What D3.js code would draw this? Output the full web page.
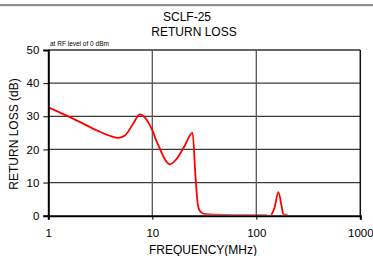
<!DOCTYPE html>
<html><head><meta charset="utf-8">
<script src="https://cdn.jsdelivr.net/npm/d3@7"></script>
<style>
html,body{margin:0;padding:0;background:#fff;}
text{font-family:"Liberation Sans",Arial,sans-serif;}
</style></head>
<body><svg id="c" width="373" height="256"></svg>
<script>
const freq = [1,1.5,2,3,4,4.7,5.5,6.5,7.6,8.5,9.3,10,11,12,13,14.8,17,20,24.4,26,27.5,29,32,40,60,100,125,132,140,150,163,176,182,200];
const returnLoss = [32.7,30.2,28.3,25.6,24.0,23.5,24.3,27.6,30.6,29.6,27.8,25.8,22.4,19.8,17.4,15.5,17.0,20.5,25.0,12,3,1.2,0.5,0.3,0.2,0.2,0.2,-1,0.3,2.5,7.1,2.5,0.3,0.3];
const xTicks = [1,10,100,1000];
const yTicks = [0,10,20,30,40,50];
const titleLines = ["SCLF-25","RETURN LOSS"];

const svg = d3.select("#c");
const L=48.3, R=360.3, T=50, B=215.7;
const x = d3.scaleLog().domain([1,1000]).range([L,R]);
const y = d3.scaleLinear().domain([0,50]).range([B,T]);

svg.append("rect").attr("x",0).attr("y",4).attr("width",373).attr("height",2.2).attr("fill","#8f8f8f");

// horizontal grid
svg.append("g").selectAll("line").data(yTicks.filter(d=>d>0)).join("line")
  .attr("x1",L).attr("x2",R).attr("y1",d=>y(d)).attr("y2",d=>y(d))
  .attr("stroke",d=>d===50?"#333":"#3a3a3a").attr("stroke-width",d=>d===50?1.5:1.2);
// vertical grid
svg.append("g").selectAll("line").data(xTicks.slice(1)).join("line")
  .attr("x1",d=>x(d)).attr("x2",d=>x(d)).attr("y1",T).attr("y2",B)
  .attr("stroke",d=>d===1000?"#111":"#555").attr("stroke-width",d=>d===1000?1.5:1.3);

// curve
svg.append("clipPath").attr("id","clip").append("rect").attr("x",L).attr("y",T).attr("width",R-L).attr("height",B-T-1);
const line = d3.line().x((d,i)=>x(freq[i])).y(d=>y(d)).curve(d3.curveMonotoneX);
svg.append("path").datum(returnLoss).attr("d",line).attr("fill","none")
  .attr("stroke","#ff0000").attr("stroke-width",1.8).attr("clip-path","url(#clip)");

// axes
const yAxis = d3.axisLeft(y).tickValues(yTicks).tickSize(5).tickPadding(4).tickFormat(d3.format("d"));
const gy = svg.append("g").attr("transform",`translate(${L},0)`).call(yAxis);
gy.select(".domain").attr("stroke","#000").attr("stroke-width",2);
gy.selectAll(".tick line").attr("stroke","#000");
gy.selectAll("text").attr("font-size",11.5).attr("fill","#000").style("font-family","Liberation Sans, Arial, sans-serif");

const xAxis = d3.axisBottom(x).tickValues(xTicks).tickSize(4).tickPadding(9).tickFormat(d3.format("d"));
const gx = svg.append("g").attr("transform",`translate(0,${B})`).call(xAxis);
gx.select(".domain").attr("stroke","#000").attr("stroke-width",2);
gx.selectAll(".tick line").attr("stroke","#000");
gx.selectAll("text").attr("font-size",11.5).attr("fill","#000").style("font-family","Liberation Sans, Arial, sans-serif");

// titles
svg.append("text").attr("x",187).attr("y",21).attr("text-anchor","middle").attr("font-size",12).text(titleLines[0]);
svg.append("text").attr("x",194).attr("y",36).attr("text-anchor","middle").attr("font-size",12).text(titleLines[1]);
svg.append("text").attr("x",50).attr("y",46).attr("font-size",6.5).text("at RF level of 0 dBm");
svg.append("text").attr("x",203).attr("y",254).attr("text-anchor","middle").attr("font-size",12).text("FREQUENCY(MHz)");
svg.append("text").attr("transform","translate(18,134) rotate(-90)").attr("text-anchor","middle").attr("font-size",12).text("RETURN LOSS (dB)");
</script></body></html>
